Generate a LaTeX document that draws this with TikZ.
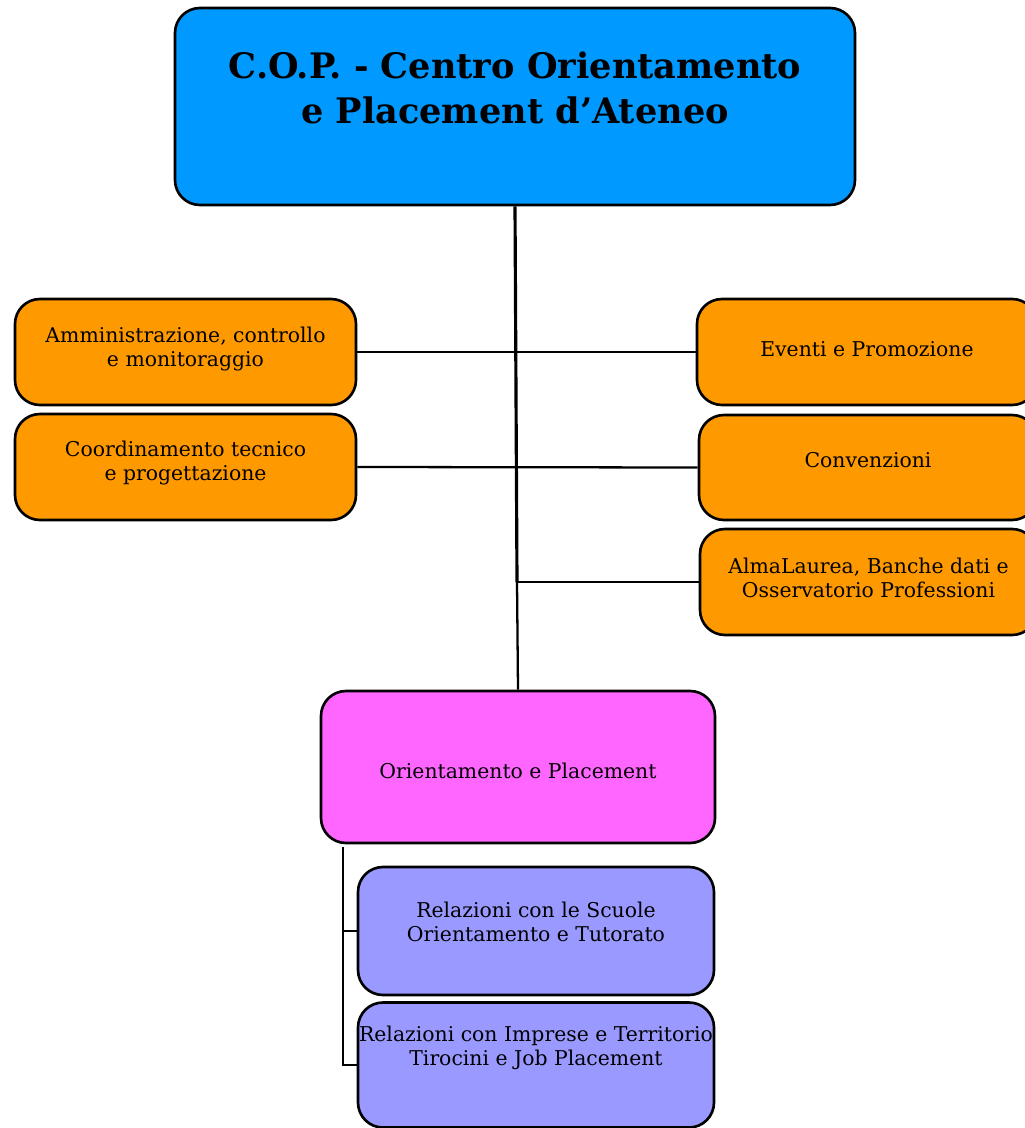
\documentclass[tikz,border=0pt]{standalone}
\usepackage{fontspec}
\setmainfont{DejaVu Serif}
\usetikzlibrary{positioning}

\definecolor{copblue}{HTML}{0099FF}
\definecolor{uoorange}{HTML}{FF9900}
\definecolor{oppink}{HTML}{FF66FF}
\definecolor{oplilac}{HTML}{9999FF}

\tikzset{%
    unit/.style={draw=black,line width=1.5pt,rounded corners=0.5cm,inner sep=0pt},
    txt/.style={align=center,font=\fontsize{11.6}{13.9}\selectfont,inner sep=0pt},
    link/.style={line width=1.3pt},
}

\begin{document}
\begin{tikzpicture}[x=0.02cm,y=-0.02cm]

\useasboundingbox (0,0) rectangle (1024,1128);

% box sizes (px)
\def\uw{341}
\def\uh{106}

% top box
\node[unit,fill=copblue,minimum width=680*0.02cm,minimum height=197*0.02cm] (cop) at (515,106.5) {};
\node[align=center,inner sep=0pt,font=\fontsize{20}{25.6}\selectfont\bfseries] (coptxt) at (515,88) {C.O.P. - Centro Orientamento\\e Placement d’Ateneo};

% staff units, left
\node[unit,fill=uoorange,minimum width=\uw*0.02cm,minimum height=\uh*0.02cm] (amm) at (185.5,352) {};
\node[txt] (ammtxt) at (185.5,349) {Amministrazione, controllo\\e monitoraggio};
\node[unit,fill=uoorange,minimum width=\uw*0.02cm,minimum height=\uh*0.02cm] (coord) at (185.5,467) {};
\node[txt] (coordtxt) at (185.5,463) {Coordinamento tecnico\\e progettazione};

% staff units, right
\node[unit,fill=uoorange,minimum width=340*0.02cm,minimum height=\uh*0.02cm] (eventi) at (867,352) {};
\node[txt] (eventitxt) at (867,349) {Eventi e Promozione};
\node[unit,fill=uoorange,minimum width=338*0.02cm,minimum height=105*0.02cm] (conv) at (868,467.5) {};
\node[txt] (convtxt) at (868,460) {Convenzioni};
\node[unit,fill=uoorange,minimum width=337*0.02cm,minimum height=\uh*0.02cm] (alma) at (868.5,582) {};
\node[txt] (almatxt) at (868.5,578) {AlmaLaurea, Banche dati e\\Osservatorio Professioni};

% line unit
\node[unit,fill=oppink,minimum width=394*0.02cm,minimum height=152*0.02cm] (orpl) at (518,767) {};
\node[txt] (orpltxt) at (518,771) {Orientamento e Placement};

\node[unit,fill=oplilac,minimum width=356*0.02cm,minimum height=128*0.02cm] (scuole) at (536,931) {};
\node[txt] (scuoletxt) at (536,922) {Relazioni con le Scuole\\Orientamento e Tutorato};
\node[unit,fill=oplilac,minimum width=356*0.02cm,minimum height=125*0.02cm] (imprese) at (536,1065) {};
\node[txt] (impresetxt) at (536,1048) {Relazioni con Imprese e Territorio\\Tirocini e Job Placement};

% connectors
\coordinate (jalma) at (517,582);
\draw[link,line width=1.8pt] (cop.south) -- (jalma);
\draw[link] (jalma) -- (orpl.north);
\draw[link] (amm.east) -- (eventi.west);
\draw[link] (coord.east) -- (conv.west);
\draw[link] (jalma) -- (alma.west);

\coordinate (opdrop) at (343,847);
\draw[link] (opdrop) |- (scuole.west);
\draw[link] (opdrop) |- (imprese.west);

\end{tikzpicture}
\end{document}
